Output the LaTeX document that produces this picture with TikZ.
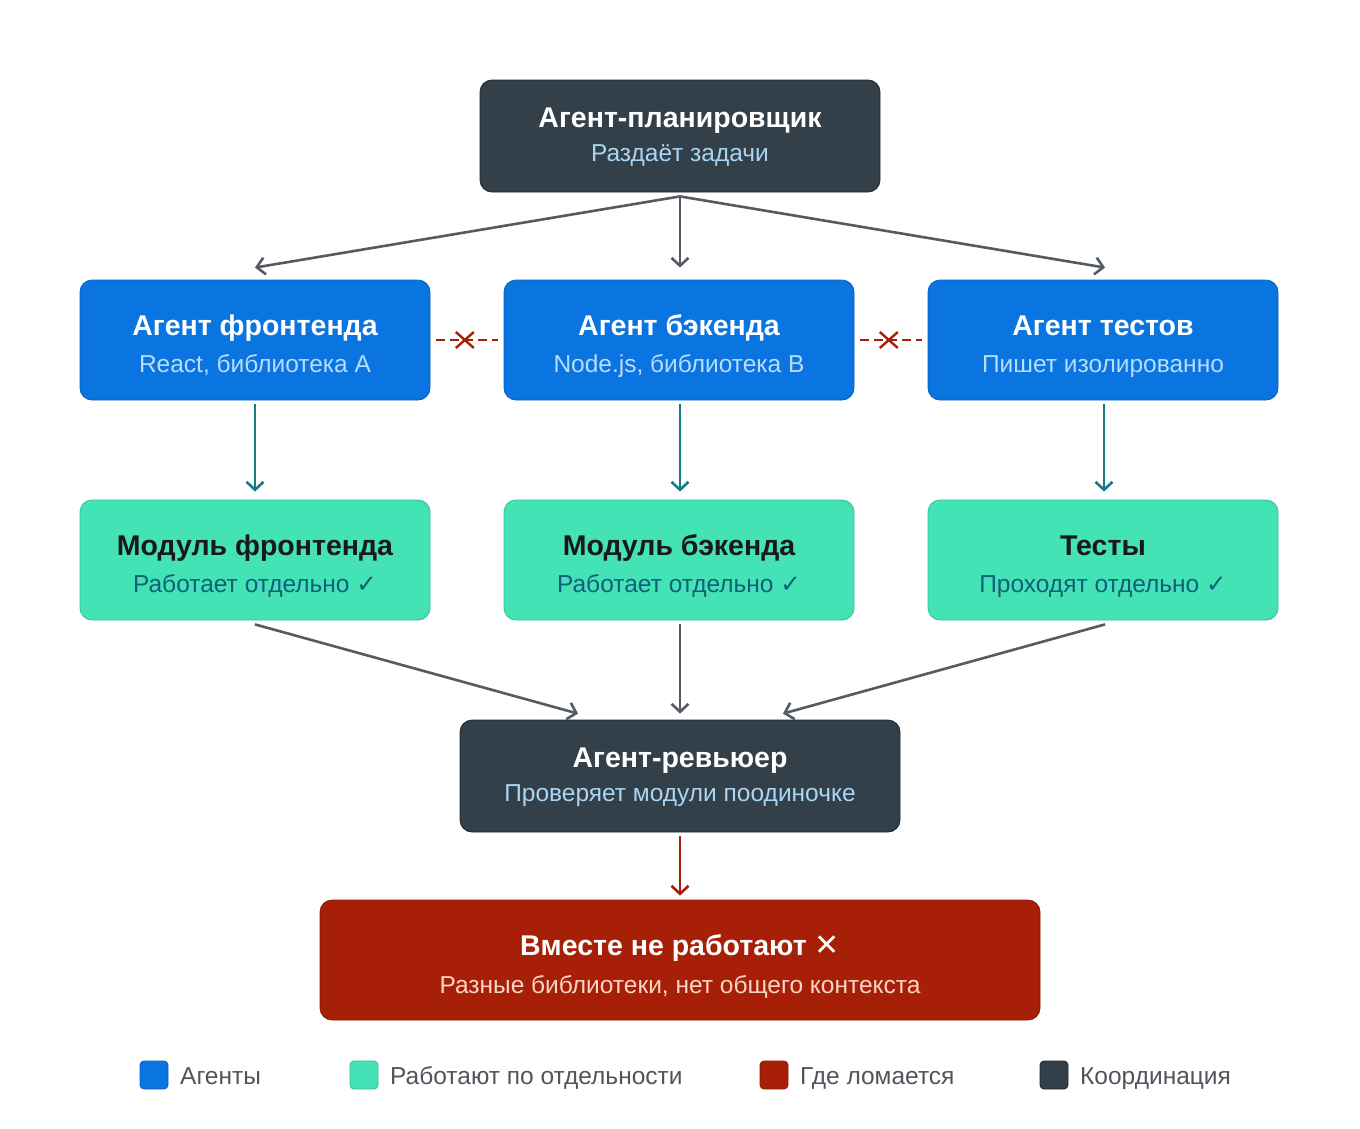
\documentclass[tikz,border=0pt]{standalone}
\usepackage{fontspec}
\setmainfont{Liberation Sans}
\newfontfamily\dejavu{DejaVu Sans}
\usetikzlibrary{arrows.meta,calc}
\definecolor{cblue}{HTML}{0A74E0}
\definecolor{cblueb}{HTML}{0A5FC0}
\definecolor{cteal}{HTML}{43E3B6}
\definecolor{ctealb}{HTML}{2EBF96}
\definecolor{cdark}{HTML}{333F49}
\definecolor{cdarkb}{HTML}{1F272D}
\definecolor{cred}{HTML}{A81F07}
\definecolor{credb}{HTML}{8A1906}
\definecolor{carrow}{HTML}{555B62}
\definecolor{ctealarr}{HTML}{147D85}
\definecolor{csubblue}{HTML}{A9D6F5}
\definecolor{csubagent}{HTML}{B8DCFC}
\definecolor{csubteal}{HTML}{0E6179}
\definecolor{csubred}{HTML}{FAD5C5}
\definecolor{clegend}{HTML}{50555B}
\tikzset{
  box/.style={draw, rounded corners=12pt, line width=0.8pt, inner sep=0pt},
  agentbox/.style={box, fill=cblue, draw=cblueb, minimum width=350pt, minimum height=120pt},
  modbox/.style={box, fill=cteal, draw=ctealb, minimum width=350pt, minimum height=120pt},
  ttl/.style={font=\fontsize{28.5}{32}\selectfont\bfseries, inner sep=0pt, anchor=base},
  sub/.style={font=\fontsize{24.5}{28}\selectfont, inner sep=0pt, anchor=base},
  arr/.style={draw=carrow, line width=2.6pt, -{Straight Barb[length=8pt,width=17pt]}},
  tarr/.style={draw=ctealarr, line width=2.6pt, -{Straight Barb[length=8pt,width=17pt]}},
  rarr/.style={draw=cred, line width=2.6pt, -{Straight Barb[length=8pt,width=17pt]}},
  brk/.style={draw=cred, line width=2.4pt, dash pattern=on 9pt off 5pt},
  xmark/.style={draw=cred, line width=2.4pt},
  legsq/.style={draw, rounded corners=4pt, line width=0.8pt, minimum width=28pt, minimum height=28pt, inner sep=0pt},
  legtxt/.style={font=\fontsize{24.5}{28}\selectfont, text=clegend, anchor=base west, inner sep=0pt},
}
\begin{document}
\begin{tikzpicture}[x=1pt,y=-1pt]
\useasboundingbox (0,0) rectangle (1360,1128);
% planner
\node[box, fill=cdark, draw=cdarkb, minimum width=400pt, minimum height=112pt] (plan) at (680,136) {};
\node[ttl, text=white] (planT) at (680,127) {Агент-планировщик};
\node[sub, text=csubblue] (planS) at (680,161) {Раздаёт задачи};
% agents
\node[agentbox] (fa) at (255,340) {};
\node[ttl, text=white] (faT) at (255,335) {Агент фронтенда};
\node[sub, text=csubagent] (faS) at (255,372) {React, библиотека A};
\node[agentbox] (ba) at (679,340) {};
\node[ttl, text=white] (baT) at (679,335) {Агент бэкенда};
\node[sub, text=csubagent] (baS) at (679,372) {Node.js, библиотека B};
\node[agentbox] (ta) at (1103,340) {};
\node[ttl, text=white] (taT) at (1103,335) {Агент тестов};
\node[sub, text=csubagent] (taS) at (1103,372) {Пишет изолированно};
% modules
\node[modbox] (fm) at (255,560) {};
\node[ttl, text=black!90] (fmT) at (255,555) {Модуль фронтенда};
\node[sub, text=csubteal] (fmS) at (255,592) {Работает отдельно {\dejavu\bfseries ✓}};
\node[modbox] (bm) at (679,560) {};
\node[ttl, text=black!90] (bmT) at (679,555) {Модуль бэкенда};
\node[sub, text=csubteal] (bmS) at (679,592) {Работает отдельно {\dejavu\bfseries ✓}};
\node[modbox] (tm) at (1103,560) {};
\node[ttl, text=black!90] (tmT) at (1103,555) {Тесты};
\node[sub, text=csubteal] (tmS) at (1103,592) {Проходят отдельно {\dejavu\bfseries ✓}};
% reviewer
\node[box, fill=cdark, draw=cdarkb, minimum width=440pt, minimum height=112pt] (rev) at (680,776) {};
\node[ttl, text=white] (revT) at (680,767) {Агент-ревьюер};
\node[sub, text=csubblue] (revS) at (680,801) {Проверяет модули поодиночке};
% result
\node[box, fill=cred, draw=credb, minimum width=720pt, minimum height=120pt] (res) at (680,960) {};
\node[ttl, text=white] (resT) at (680,955) {Вместе не работают {\dejavu\mdseries\fontsize{30}{32}\selectfont ✕}};
\node[sub, text=csubred] (resS) at (680,993) {Разные библиотеки, нет общего контекста};
% planner arrows
\coordinate (ps) at ($(plan.south)+(0,4)$);
\draw[arr] (ps) -- ($(fa.north)+(0,-12)$);
\draw[arr] (ps) -- ($(ba.north)+(1,-12)$);
\draw[arr] (ps) -- ($(ta.north)+(2,-12)$);
% agent to module
\draw[tarr] ($(fa.south)+(0,4)$) -- ($(fm.north)+(0,-8)$);
\draw[tarr] ($(ba.south)+(1,4)$) -- ($(bm.north)+(1,-8)$);
\draw[tarr] ($(ta.south)+(1,4)$) -- ($(tm.north)+(1,-8)$);
% module to reviewer
\draw[arr] ($(fm.south)+(0,4)$) -- ($(rev.north)+(-102,-6)$);
\draw[arr] ($(bm.south)+(1,4)$) -- ($(rev.north)+(0,-6)$);
\draw[arr] ($(tm.south)+(2,4)$) -- ($(rev.north)+(103,-6)$);
% reviewer to result
\draw[rarr] ($(rev.south)+(0,4)$) -- ($(res.north)+(0,-4)$);
% broken links
\draw[brk] ($(fa.east)+(6,0)$) -- ($(ba.west)+(-6,0)$);
\coordinate (x1) at ($(fa.east)!0.47!(ba.west)$);
\draw[xmark] ($(x1)+(-9,-8)$) -- ($(x1)+(9,8)$) ($(x1)+(-9,8)$) -- ($(x1)+(9,-8)$);
\draw[brk] ($(ba.east)+(6,0)$) -- ($(ta.west)+(-6,0)$);
\coordinate (x2) at ($(ba.east)!0.47!(ta.west)$);
\draw[xmark] ($(x2)+(-9,-8)$) -- ($(x2)+(9,8)$) ($(x2)+(-9,8)$) -- ($(x2)+(9,-8)$);
% legend
\node[legsq, fill=cblue, draw=cblueb] (l1) at (154,1075) {};
\node[legtxt] (l1t) at (180,1084) {Агенты};
\node[legsq, fill=cteal, draw=ctealb] (l2) at (364,1075) {};
\node[legtxt] (l2t) at (390,1084) {Работают по отдельности};
\node[legsq, fill=cred, draw=credb] (l3) at (774,1075) {};
\node[legtxt] (l3t) at (800,1084) {Где ломается};
\node[legsq, fill=cdark, draw=cdarkb] (l4) at (1054,1075) {};
\node[legtxt] (l4t) at (1080,1084) {Координация};
\end{tikzpicture}
\end{document}
